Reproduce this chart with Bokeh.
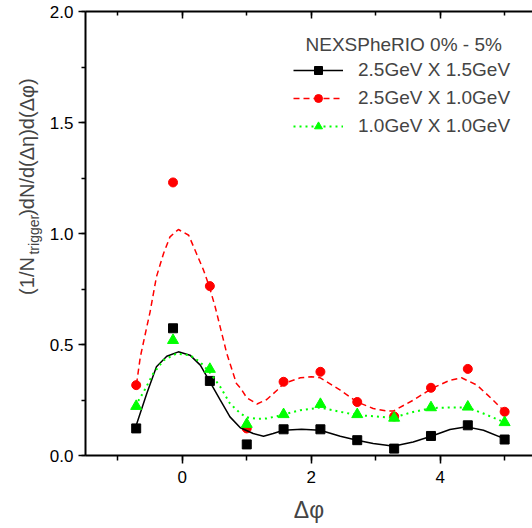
import math
from bokeh.plotting import figure
from bokeh.layouts import row
from bokeh.models import (Range1d, SingleIntervalTicker, LinearAxis, Legend,
                          LegendItem, Label, PrintfTickFormatter, CustomJSTickFormatter)
from bokeh.embed import file_html
from bokeh.resources import INLINE

FONT = "Liberation Sans"

# ---- data ----
dphi = [-0.714, -0.143, 0.428, 1.000, 1.571, 2.142, 2.713, 3.285, 3.856, 4.427, 4.998]
black_pts = [0.122, 0.573, 0.336, 0.050, 0.118, 0.118, 0.069, 0.031, 0.088, 0.136, 0.072]
red_pts = [0.317, 1.230, 0.763, 0.122, 0.332, 0.377, 0.241, 0.176, 0.305, 0.390, 0.197]
green_pts = [0.222, 0.519, 0.389, 0.141, 0.185, 0.231, 0.185, 0.169, 0.216, 0.219, 0.149]

black_curve_x = [-0.73, -0.55, -0.40, -0.24, -0.06, 0.12, 0.28, 0.42, 0.59, 0.74, 0.90,
                 1.10, 1.26, 1.41, 1.57, 1.85, 2.14, 2.45, 2.71, 2.96, 3.17, 3.27, 3.58,
                 3.87, 4.15, 4.41, 4.67, 5.00]
black_curve_y = [0.122, 0.279, 0.400, 0.447, 0.467, 0.452, 0.407, 0.336, 0.249, 0.174, 0.125,
                 0.099, 0.087, 0.099, 0.114, 0.118, 0.114, 0.087, 0.069, 0.054, 0.046, 0.042,
                 0.061, 0.088, 0.117, 0.129, 0.114, 0.075]

red_curve_x = [-0.71, -0.65, -0.55, -0.50, -0.40, -0.29, -0.19, -0.06, 0.10, 0.22, 0.33, 0.42,
               0.51, 0.60, 0.69, 0.84, 0.90, 1.00, 1.16, 1.31, 1.47, 1.57, 1.83, 2.00, 2.14,
               2.45, 2.71, 2.96, 3.17, 3.27, 3.58, 3.87, 4.15, 4.33, 4.57, 4.82, 5.00]
red_curve_y = [0.320, 0.444, 0.579, 0.645, 0.805, 0.910, 0.985, 1.018, 0.992, 0.910, 0.835, 0.760,
               0.670, 0.565, 0.460, 0.324, 0.305, 0.260, 0.232, 0.252, 0.294, 0.324, 0.350, 0.355,
               0.350, 0.294, 0.241, 0.212, 0.200, 0.200, 0.249, 0.302, 0.339, 0.350, 0.317,
               0.249, 0.197]

green_curve_x = [-0.73, -0.60, -0.45, -0.29, -0.09, 0.12, 0.28, 0.42, 0.59, 0.74, 0.90, 1.00,
                 1.16, 1.31, 1.47, 1.57, 1.83, 2.14, 2.45, 2.71, 2.96, 3.17, 3.27, 3.58, 3.87,
                 4.15, 4.42, 4.67, 5.00]
green_curve_y = [0.222, 0.286, 0.369, 0.429, 0.459, 0.452, 0.420, 0.377, 0.309, 0.234, 0.190,
                 0.172, 0.165, 0.167, 0.177, 0.185, 0.204, 0.216, 0.197, 0.182, 0.177, 0.172,
                 0.171, 0.196, 0.214, 0.216, 0.216, 0.189, 0.149]

series_labels = ["2.5GeV X 1.5GeV", "2.5GeV X 1.0GeV", "1.0GeV X 1.0GeV"]
legend_title = "NEXSPheRIO 0% - 5%"
x_title = "\u0394\u03c6"
y_title_parts = ["(1/N", "trigger", ")dN/d(\u0394\u03b7)d(\u0394\u03c6)"]

H = 528
LW = 44          # width of the strip holding the rotated y title
PW = 532 - LW    # width of the main figure

# ---- strip with the rotated y-axis title (pixel-like coordinates) ----
lab = figure(width=LW, height=H, output_backend="svg", toolbar_location=None,
             x_range=Range1d(0, LW), y_range=Range1d(H, 0),
             min_border_left=0, min_border_right=0, min_border_top=0, min_border_bottom=0,
             x_axis_type=None, y_axis_type=None)
lab.outline_line_color = None
lab.xgrid.visible = False
lab.ygrid.visible = False
lab.add_layout(Label(x=26, y=337, text=y_title_parts[0], angle=math.pi / 2,
                     text_font=FONT, text_font_size="20px", text_baseline="middle",
                     text_align="left"))
lab.add_layout(Label(x=33, y=289, text=y_title_parts[1], angle=math.pi / 2,
                     text_font=FONT, text_font_size="14px", text_baseline="middle",
                     text_align="left"))
lab.add_layout(Label(x=26, y=243, text=y_title_parts[2], angle=math.pi / 2,
                     text_font=FONT, text_font_size="20px", text_baseline="middle",
                     text_align="left"))

# ---- main figure ----
p = figure(width=PW, height=H, output_backend="svg", toolbar_location=None,
           x_range=Range1d(-1.5, 5.43), y_range=Range1d(0, 2.0),
           min_border_left=85 - LW, min_border_right=0, min_border_top=11,
           min_border_bottom=H - 455, x_axis_type=None, y_axis_type=None)
p.outline_line_color = None
p.xgrid.visible = False
p.ygrid.visible = False
p.background_fill_color = "white"
p.border_fill_color = "white"

xt = SingleIntervalTicker(interval=2, num_minor_ticks=2)
yt = SingleIntervalTicker(interval=0.5, num_minor_ticks=2)


def style_axis(ax):
    ax.axis_line_width = 2
    ax.axis_line_color = "black"
    ax.major_tick_line_width = 1.5
    ax.minor_tick_line_width = 1.5
    ax.major_tick_line_color = "black"
    ax.minor_tick_line_color = "black"
    ax.major_label_text_font = FONT
    ax.major_label_text_font_size = "17px"
    ax.major_label_text_color = "black"


xb = LinearAxis(ticker=xt)
style_axis(xb)
xb.major_tick_out = 8
xb.major_tick_in = 0
xb.minor_tick_out = 5
xb.minor_tick_in = 0
xb.major_label_standoff = 7
xb.axis_label = x_title
xb.axis_label_text_font = FONT
xb.axis_label_text_font_size = "23px"
xb.axis_label_text_font_style = "normal"
xb.axis_label_standoff = 11
p.add_layout(xb, "below")

xa = LinearAxis(ticker=xt, formatter=CustomJSTickFormatter(code="return ''"))
style_axis(xa)
xa.major_tick_out = 0
xa.major_tick_in = 7
xa.minor_tick_out = 0
xa.minor_tick_in = 4
xa.major_label_standoff = 0
p.add_layout(xa, "above")

yl = LinearAxis(ticker=yt, formatter=PrintfTickFormatter(format="%.1f"))
style_axis(yl)
yl.major_tick_out = 7
yl.major_tick_in = 0
yl.minor_tick_out = 4
yl.minor_tick_in = 0
yl.major_label_standoff = 5
p.add_layout(yl, "left")

# ---- curves and points ----
r_red_line = p.line(red_curve_x, red_curve_y, line_color="#ff0000", line_width=1.5,
                    line_dash="6 4")
r_red_pts = p.scatter(dphi, red_pts, marker="circle", size=9, fill_color="#ff0000",
                      line_color="#ff0000")
r_blk_line = p.line(black_curve_x, black_curve_y, line_color="black", line_width=1.5)
r_blk_pts = p.scatter(dphi, black_pts, marker="square", size=9, fill_color="black",
                      line_color="black")
r_grn_line = p.line(green_curve_x, green_curve_y, line_color="#00ff00", line_width=2,
                    line_dash="2 4")
r_grn_pts = p.scatter(dphi, green_pts, marker="triangle", size=11, fill_color="#00ff00",
                      line_color="#00ff00")

legend = Legend(items=[
    LegendItem(label=series_labels[0], renderers=[r_blk_line, r_blk_pts]),
    LegendItem(label=series_labels[1], renderers=[r_red_line, r_red_pts]),
    LegendItem(label=series_labels[2], renderers=[r_grn_line, r_grn_pts]),
], location=(208, 318))
legend.label_text_font = FONT
legend.label_text_font_size = "19px"
legend.label_height = 20
legend.glyph_height = 20
legend.glyph_width = 50
legend.label_standoff = 15
legend.spacing = 6
legend.padding = 0
legend.margin = 0
legend.border_line_color = None
legend.background_fill_alpha = 0
p.add_layout(legend)

p.add_layout(Label(x=1.911, y=1.853, text=legend_title, text_font=FONT,
                   text_font_size="19px", text_baseline="middle", text_align="left"))

layout = row(lab, p, spacing=0)
open("out.html", "w").write(file_html(layout, INLINE))
